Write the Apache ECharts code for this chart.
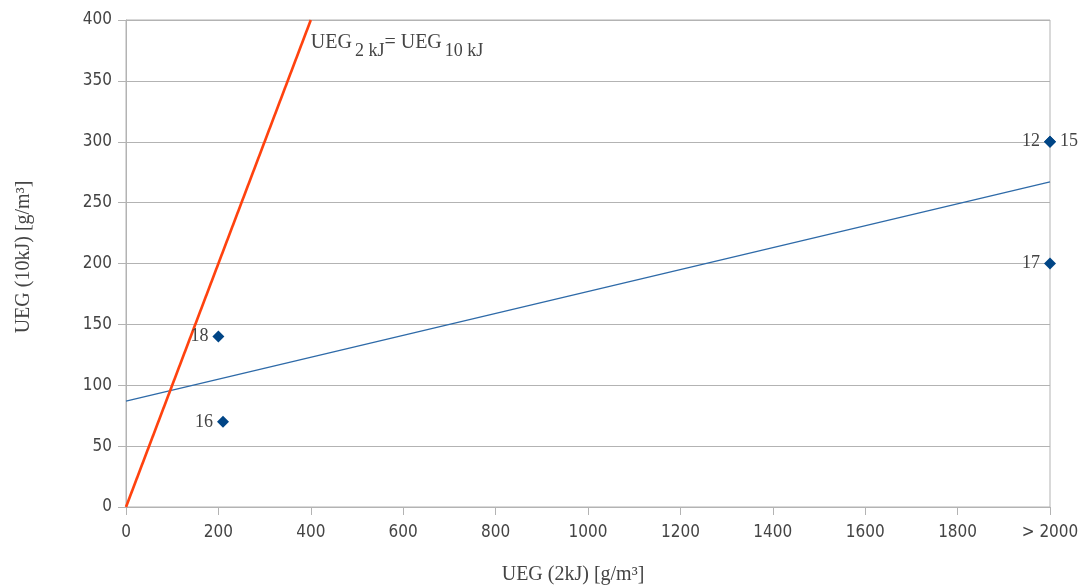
<!DOCTYPE html>
<html><head><meta charset="utf-8">
<script src="https://cdn.jsdelivr.net/npm/echarts@6/dist/echarts.min.js"></script>
<style>html,body{margin:0;padding:0;background:#fff;overflow:hidden}#c{position:absolute;left:0;top:0;width:1083px;height:587px}</style>
</head><body><div id="c"></div>
<script>
// Data
const pointX = [200, 210, 2000, 2000, 2000];
const pointY = [140, 70, 300, 300, 200];
const pointLabels = ['18', '16', '12', '15', '17'];
const pointLabelSide = ['left', 'left', 'left', 'right', 'left'];
const identityLine = [[0, 0], [400, 400]];
const trendLine = [[0, 87], [2000, 267]];
const xTickLabels = ['0','200','400','600','800','1000','1200','1400','1600','1800','> 2000'];
const yTicks = [0, 50, 100, 150, 200, 250, 300, 350, 400];

const SERIF = '"Liberation Serif", "DejaVu Serif", serif';
const SANS = '"DejaVu Sans Condensed", "DejaVu Sans", sans-serif';
const TXT = '#444';
const GRID = '#b3b3b3';
const chart = echarts.init(document.getElementById('c'), null, {renderer: 'canvas', width: 1083, height: 587});

const scatterData = pointX.map((x, i) => ({
  value: [x, pointY[i]],
  label: {show: true, formatter: pointLabels[i], position: pointLabelSide[i]}
}));

chart.setOption({
  animation: false,
  backgroundColor: '#fff',
  grid: {left: 126, right: 33, top: 20, bottom: 80, show: true, borderColor: GRID, borderWidth: 1,
    containLabel: false, outerBoundsMode: 'none'},
  xAxis: {
    type: 'value', min: 0, max: 2000, interval: 200,
    name: 'UEG (2kJ) [g/m³]', nameLocation: 'middle', nameGap: 58,
    nameTextStyle: {fontFamily: SERIF, fontSize: 20, color: TXT, padding: [0, 30, 0, 0]},
    axisLine: {show: true, lineStyle: {color: GRID}},
    axisTick: {show: true, length: 8, lineStyle: {color: GRID}},
    splitLine: {show: false},
    axisLabel: {fontFamily: SANS, fontSize: 17, color: TXT, margin: 17,
      formatter: (v) => xTickLabels[Math.round(v / 200)]}
  },
  yAxis: {
    type: 'value', min: yTicks[0], max: yTicks[yTicks.length - 1], interval: 50,
    name: 'UEG (10kJ) [g/m³]', nameLocation: 'middle', nameGap: 92,
    nameTextStyle: {fontFamily: SERIF, fontSize: 20, color: TXT, padding: [0, 0, 0, 13]},
    axisLine: {show: true, lineStyle: {color: GRID}},
    axisTick: {show: true, length: 8, lineStyle: {color: GRID}},
    splitLine: {show: true, lineStyle: {color: GRID}},
    axisLabel: {fontFamily: SANS, fontSize: 17, color: TXT, margin: 14}
  },
  series: [
    {
      type: 'line', data: trendLine, symbol: 'none', silent: true,
      lineStyle: {color: '#2e6aa8', width: 1.3}, z: 2
    },
    {
      type: 'line', symbol: 'none', silent: true, data: identityLine,
      lineStyle: {color: '#ff420e', width: 2.6}, z: 3,
      endLabel: {show: true, distance: 0, offset: [0, 25],
        formatter: '{a|UEG}{s|2 kJ}{a|= UEG}{s|10 kJ}',
        rich: {
          a: {fontFamily: SERIF, fontSize: 20, color: TXT, verticalAlign: 'top', lineHeight: 24},
          s: {fontFamily: SERIF, fontSize: 18, color: TXT, verticalAlign: 'top', lineHeight: 24, padding: [9, 0, 0, 3]}
        }}
    },
    {
      type: 'scatter', data: scatterData, symbol: 'diamond', symbolSize: 12,
      itemStyle: {color: '#004586', opacity: 1},
      label: {fontFamily: SERIF, fontSize: 18, color: TXT, distance: 4},
      z: 4
    }
  ]
});
</script>
</body></html>
